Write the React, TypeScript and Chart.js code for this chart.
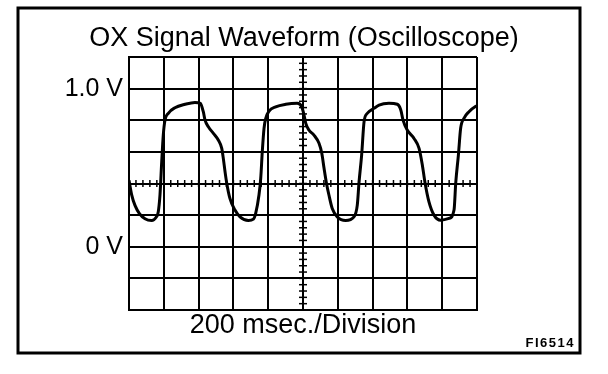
import React, { useEffect, useRef } from "react";
import { Chart, registerables } from "chart.js";

Chart.register(...registerables);

// ---- Data ----
const TITLE = "OX Signal Waveform (Oscilloscope)";
const X_TITLE = "200 msec./Division";
const FIG_CODE = "FI6514";

const timeMs = [
  0, 15, 35, 60, 92, 130, 155, 168, 178, 188, 197, 207, 226, 264, 322, 379, 410,
  427, 437, 456, 485, 513, 533, 542, 552, 561, 580, 609, 638, 686, 715, 728, 747,
  757, 766, 776, 786, 805, 843, 901, 967, 993, 1006, 1016, 1034, 1063, 1092, 1108,
  1121, 1134, 1149, 1168, 1197, 1245, 1293, 1312, 1322, 1337, 1351, 1370, 1408,
  1437, 1494, 1542, 1562, 1575, 1599, 1638, 1667, 1686, 1701, 1724, 1753, 1791,
  1839, 1868, 1878, 1893, 1906, 1925, 1954, 1989, 2000,
];
const volts = [
  0.42, 0.33, 0.26, 0.21, 0.177, 0.166, 0.185, 0.22, 0.327, 0.537, 0.706, 0.801,
  0.844, 0.879, 0.901, 0.913, 0.907, 0.854, 0.801, 0.759, 0.717, 0.675, 0.622,
  0.559, 0.474, 0.407, 0.306, 0.232, 0.189, 0.166, 0.175, 0.211, 0.327, 0.432,
  0.601, 0.749, 0.812, 0.858, 0.885, 0.901, 0.907, 0.885, 0.833, 0.78, 0.738,
  0.706, 0.654, 0.591, 0.496, 0.407, 0.327, 0.242, 0.189, 0.166, 0.189, 0.263,
  0.407, 0.58, 0.791, 0.844, 0.875, 0.896, 0.907, 0.901, 0.865, 0.801, 0.738,
  0.685, 0.622, 0.516, 0.407, 0.284, 0.2, 0.168, 0.179, 0.232, 0.407, 0.58, 0.749,
  0.812, 0.854, 0.885, 0.89,
];

// Axis ranges (oscilloscope screen: 10 x 8 divisions)
const X_MIN = 0;
const X_MAX = 2000;
const X_DIV = 200;
const Y_MIN = -0.4;
const Y_MAX = 1.2;
const Y_DIV = 0.2;
const CENTER_T = 1000;
const CENTER_V = 0.4;
const MINOR_T = 40;
const MINOR_V = 0.04;
const yLabels: [number, string][] = [
  [1.0, "1.0 V"],
  [0, "0 V"],
];

const FONT = "'Liberation Sans', Arial, Helvetica, sans-serif";

const overlayPlugin = {
  id: "overlay",
  beforeDatasetsDraw(chart: any) {
    const { ctx, scales } = chart;
    const x = scales.x;
    const y = scales.y;
    ctx.save();
    ctx.strokeStyle = "#000";
    ctx.lineWidth = 1.5;
    const cy = y.getPixelForValue(CENTER_V);
    for (let t = X_MIN; t <= X_MAX + 1e-6; t += MINOR_T) {
      const px = x.getPixelForValue(t);
      ctx.beginPath();
      ctx.moveTo(px, cy - 3.5);
      ctx.lineTo(px, cy + 3.5);
      ctx.stroke();
    }
    const cx = x.getPixelForValue(CENTER_T);
    for (let v = Y_MIN; v <= Y_MAX + 1e-6; v += MINOR_V) {
      const py = y.getPixelForValue(v);
      ctx.beginPath();
      ctx.moveTo(cx - 4, py);
      ctx.lineTo(cx + 4, py);
      ctx.stroke();
    }
    ctx.restore();
  },
  afterDraw(chart: any) {
    const { ctx } = chart;
    ctx.save();
    ctx.strokeStyle = "#000";
    ctx.lineWidth = 3;
    ctx.strokeRect(18, 8, 562, 345);
    ctx.fillStyle = "#000";
    ctx.font = `bold 13px ${FONT}`;
    ctx.textAlign = "right";
    ctx.textBaseline = "middle";
    try {
      (ctx as any).letterSpacing = "1.5px";
    } catch (e) {}
    ctx.fillText(FIG_CODE, 575, 343);
    ctx.restore();
  },
};

export default function App() {
  const ref = useRef<HTMLCanvasElement | null>(null);

  useEffect(() => {
    if (!ref.current) return;
    const chart = new Chart(ref.current, {
      type: "line",
      data: {
        datasets: [
          {
            data: timeMs.map((t, i) => ({ x: t, y: volts[i] })),
            borderColor: "#000",
            borderWidth: 3,
            pointRadius: 0,
            fill: false,
            cubicInterpolationMode: "monotone",
          },
        ],
      },
      options: {
        animation: false,
        responsive: false,
        events: [],
        layout: { padding: { top: 6, bottom: 34, left: 0, right: 0 } },
        plugins: {
          legend: { display: false },
          tooltip: { enabled: false },
          title: {
            display: true,
            text: TITLE,
            color: "#000",
            font: { family: FONT, size: 27, weight: "normal", lineHeight: 1.2 },
            padding: { top: 16, bottom: 2.6 },
          },
        },
        scales: {
          x: {
            type: "linear",
            min: X_MIN,
            max: X_MAX,
            ticks: { display: false, stepSize: X_DIV, autoSkip: false },
            grid: { color: "#000", lineWidth: 2, drawTicks: false },
            border: { display: true, color: "#000", width: 2 },
            title: {
              display: true,
              text: X_TITLE,
              color: "#000",
              font: { family: FONT, size: 27, lineHeight: 1 },
              padding: { top: 0, bottom: 0.5 },
            },
            afterFit: (s: any) => {
              s.height = 30;
            },
          },
          y: {
            type: "linear",
            min: Y_MIN,
            max: Y_MAX,
            ticks: {
              stepSize: Y_DIV,
              autoSkip: false,
              padding: 6,
              color: "#000",
              font: { family: FONT, size: 25 },
              callback: (v: any) => {
                const f = yLabels.find(([val]) => Math.abs(val - Number(v)) < 1e-6);
                return f ? f[1] : "";
              },
            },
            grid: { color: "#000", lineWidth: 2, drawTicks: false },
            border: { display: true, color: "#000", width: 2 },
            afterFit: (s: any) => {
              s.width = 129;
            },
          },
          yRight: {
            type: "linear",
            position: "right",
            min: Y_MIN,
            max: Y_MAX,
            ticks: { display: false },
            grid: { display: false, drawTicks: false },
            border: { display: false },
            afterFit: (s: any) => {
              s.width = 131;
            },
          },
        },
      },
      plugins: [overlayPlugin],
    });
    return () => chart.destroy();
  }, []);

  return (
    <div style={{ position: "absolute", left: 0, top: 0, width: 608, height: 374, background: "#fff" }}>
      <canvas ref={ref} width={608} height={374} style={{ display: "block" }} />
    </div>
  );
}
